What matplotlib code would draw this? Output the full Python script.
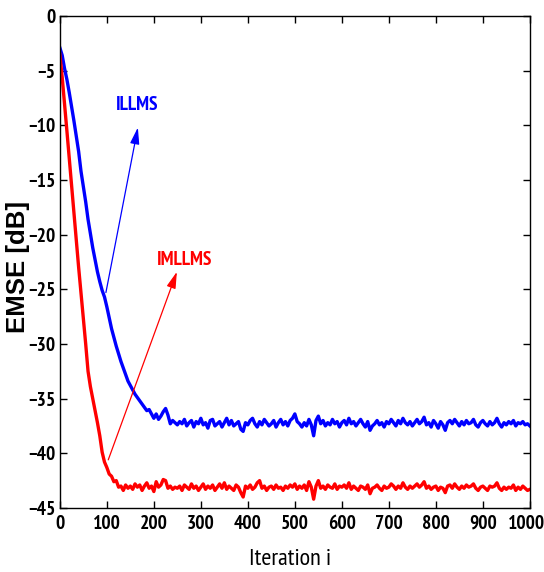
import numpy as np
import matplotlib
matplotlib.use('Agg')
import matplotlib.pyplot as plt
from matplotlib.transforms import ScaledTranslation

# iteration index, sampled every 5 iterations
iters = np.arange(0, 1001, 5)

illms = [
    -2.9, -3.6, -4.8, -5.8, -7.0, -8.3, -9.6, -11.0, -12.4, -14.2,
    -15.6, -17.0, -18.6, -19.9, -21.2, -22.3, -23.4, -24.3, -25.1, -25.7,
    -26.6, -27.6, -28.6, -29.4, -30.2, -30.9, -31.6, -32.2, -32.8, -33.4,
    -33.8, -34.2, -34.6, -34.9, -35.2, -35.5, -35.8, -36.1, -36.0, -36.4,
    -36.8, -36.4, -36.9, -36.6, -36.2, -35.9, -36.5, -37.3, -37.0, -37.2,
    -37.4, -37.1, -37.3, -36.9, -37.5, -37.2, -37.0, -37.6, -37.1, -37.3,
    -36.8, -37.4, -37.2, -37.7, -37.0, -36.9, -37.5, -37.3, -37.1, -37.6,
    -37.2, -36.8, -37.4, -37.0, -37.5, -37.3, -37.1, -37.8, -38.0, -37.2,
    -37.4, -37.0, -36.8, -37.3, -37.6, -37.1, -37.4, -36.9, -37.2, -37.5,
    -37.3, -37.0, -37.6, -37.2, -36.9, -37.4, -37.1, -37.5, -37.0, -36.8,
    -36.4, -37.1, -37.3, -37.6, -37.2, -37.5, -36.9, -37.4, -38.4, -37.0,
    -36.6, -37.3, -37.0, -37.5, -37.2, -37.4, -36.9, -37.3, -37.1, -37.6,
    -37.2, -37.0, -37.4, -36.8, -37.3, -37.1, -37.5, -37.2, -36.9, -37.3,
    -37.6, -37.1, -37.9, -37.5, -37.3, -37.0, -37.4, -37.2, -37.6, -37.1,
    -37.3, -36.9, -37.2, -37.5, -37.0, -37.3, -36.8, -37.2, -37.4, -37.1,
    -37.5, -37.2, -36.9, -37.3, -37.1, -36.7, -37.4, -37.2, -37.6, -37.0,
    -37.3, -37.7, -37.1, -37.4, -37.9, -37.2, -37.0, -37.3, -36.9, -37.2,
    -37.5, -37.1, -37.4, -37.0, -37.3, -37.2, -36.9, -37.4, -37.6, -37.2,
    -37.0, -37.3, -37.5, -37.1, -37.4, -37.2, -36.8, -37.3, -37.6, -37.2,
    -37.4, -37.1, -37.3, -37.0, -37.5, -37.2, -37.3, -37.1, -37.4, -37.3,
    -37.5,
]

imllms = [
    -3.5, -5.6, -8.0, -10.5, -13.0, -15.5, -18.0, -20.5, -23.0, -25.3,
    -27.6, -30.0, -32.5, -33.9, -35.0, -36.1, -37.2, -38.4, -39.9, -40.8,
    -41.3, -41.9, -42.1, -42.6, -42.5, -43.1, -43.0, -43.4, -42.9, -43.2,
    -43.0, -43.3, -42.8, -43.1, -42.9, -43.4, -43.0, -42.7, -43.2, -43.0,
    -43.5, -42.6, -43.1, -42.9, -42.4, -42.5, -43.2, -43.0, -43.3, -43.1,
    -43.2, -43.0, -43.4, -42.9, -43.1, -43.3, -42.8, -43.2, -43.0, -43.4,
    -43.1, -42.8, -43.3, -43.0, -43.2, -42.9, -43.4, -43.1, -42.8, -43.2,
    -42.7, -43.3, -43.0, -43.2, -43.4, -42.9, -43.1, -43.6, -44.0, -43.0,
    -43.2, -42.9, -43.3, -43.1, -42.7, -42.5, -43.2, -43.0, -43.4, -43.1,
    -43.0, -43.3, -42.9, -43.2, -43.1, -43.4, -43.0, -43.2, -42.9, -43.1,
    -42.8, -43.3, -43.0, -43.2, -42.9, -43.4, -42.6, -43.1, -44.2, -43.0,
    -42.5, -43.2, -43.0, -43.3, -42.9, -43.1, -43.2, -42.8, -43.3, -43.0,
    -43.1, -42.9, -43.2, -42.7, -43.3, -43.0, -43.2, -43.4, -43.0, -43.1,
    -43.3, -42.9, -43.7, -43.2, -43.1, -42.9, -43.2, -43.4, -43.0, -43.2,
    -43.1, -42.8, -43.0, -43.3, -43.0, -43.2, -42.7, -43.1, -43.3, -43.0,
    -43.2, -43.0, -42.8, -43.1, -42.9, -42.6, -43.2, -43.0, -43.3, -43.1,
    -43.0, -43.4, -43.1, -43.2, -43.6, -43.0, -42.9, -43.2, -42.8, -43.1,
    -43.3, -43.0, -43.2, -42.9, -43.1, -43.0, -42.8, -43.2, -43.4, -43.1,
    -43.0, -43.2, -43.4, -43.0, -43.1, -43.0, -42.7, -43.2, -43.4, -43.1,
    -43.3, -43.1, -43.2, -42.9, -43.4, -43.1, -43.3, -43.0, -43.2, -43.4,
    -43.3,
]

xticks = list(range(0, 1001, 100))
yticks = list(range(-45, 1, 5))

narrow = ['PT Sans Narrow', 'Pragati Narrow', 'Archivo Narrow', 'DejaVu Sans']

fig = plt.figure(figsize=(5.44, 5.72), dpi=100)
ax = fig.add_axes([0.110, 0.112, 0.864, 0.860])

ax.plot(iters, illms, color='#0000ff', lw=2.4)
ax.plot(iters, imllms, color='#ff0000', lw=2.4)

ax.set_xlim(0, 1000)
ax.set_ylim(-45, 0)
ax.set_xticks(xticks)
ax.set_yticks(yticks)
ax.tick_params(direction='in', top=True, right=True, length=5, width=1)
for lab in ax.get_xticklabels() + ax.get_yticklabels():
    lab.set_family(narrow)
    lab.set_fontweight('bold')
    lab.set_fontsize(14)
ax.tick_params(axis='x', pad=5)
ax.tick_params(axis='y', pad=3)
for sp in ax.spines.values():
    sp.set_linewidth(1.0)
# nudge the last x label so "1000" stays inside the picture
last = ax.get_xticklabels()[-1]
last.set_transform(last.get_transform() + ScaledTranslation(-0.035, 0, fig.dpi_scale_trans))

ax.set_xlabel('Iteration i', family=narrow, fontsize=17.5)
ax.xaxis.set_label_coords(0.49, -0.104)
ax.xaxis.label.set_verticalalignment('center')
ax.set_ylabel('EMSE [dB]', family=['Liberation Sans', 'DejaVu Sans'],
              fontweight='bold', fontsize=18.5)
ax.yaxis.set_label_coords(-0.088, 0.49)
ax.yaxis.label.set_verticalalignment('center')

# annotations
ax.annotate('', xy=(166, -10.2), xytext=(98, -25.3),
            arrowprops=dict(arrowstyle='-|>,head_length=1.0,head_width=0.28',
                            color='#0000ff', lw=0.9, shrinkA=0, shrinkB=0))
ax.text(165, -8.1, 'ILLMS', color='#0000ff', family=narrow,
        fontweight='bold', fontsize=14, ha='center', va='center')

ax.annotate('', xy=(249, -23.4), xytext=(103, -40.6),
            arrowprops=dict(arrowstyle='-|>,head_length=1.0,head_width=0.28',
                            color='#ff0000', lw=0.9, shrinkA=0, shrinkB=0))
ax.text(266, -22.3, 'IMLLMS', color='#ff0000', family=narrow,
        fontweight='bold', fontsize=14, ha='center', va='center')

fig.savefig('out.png', dpi=100)
